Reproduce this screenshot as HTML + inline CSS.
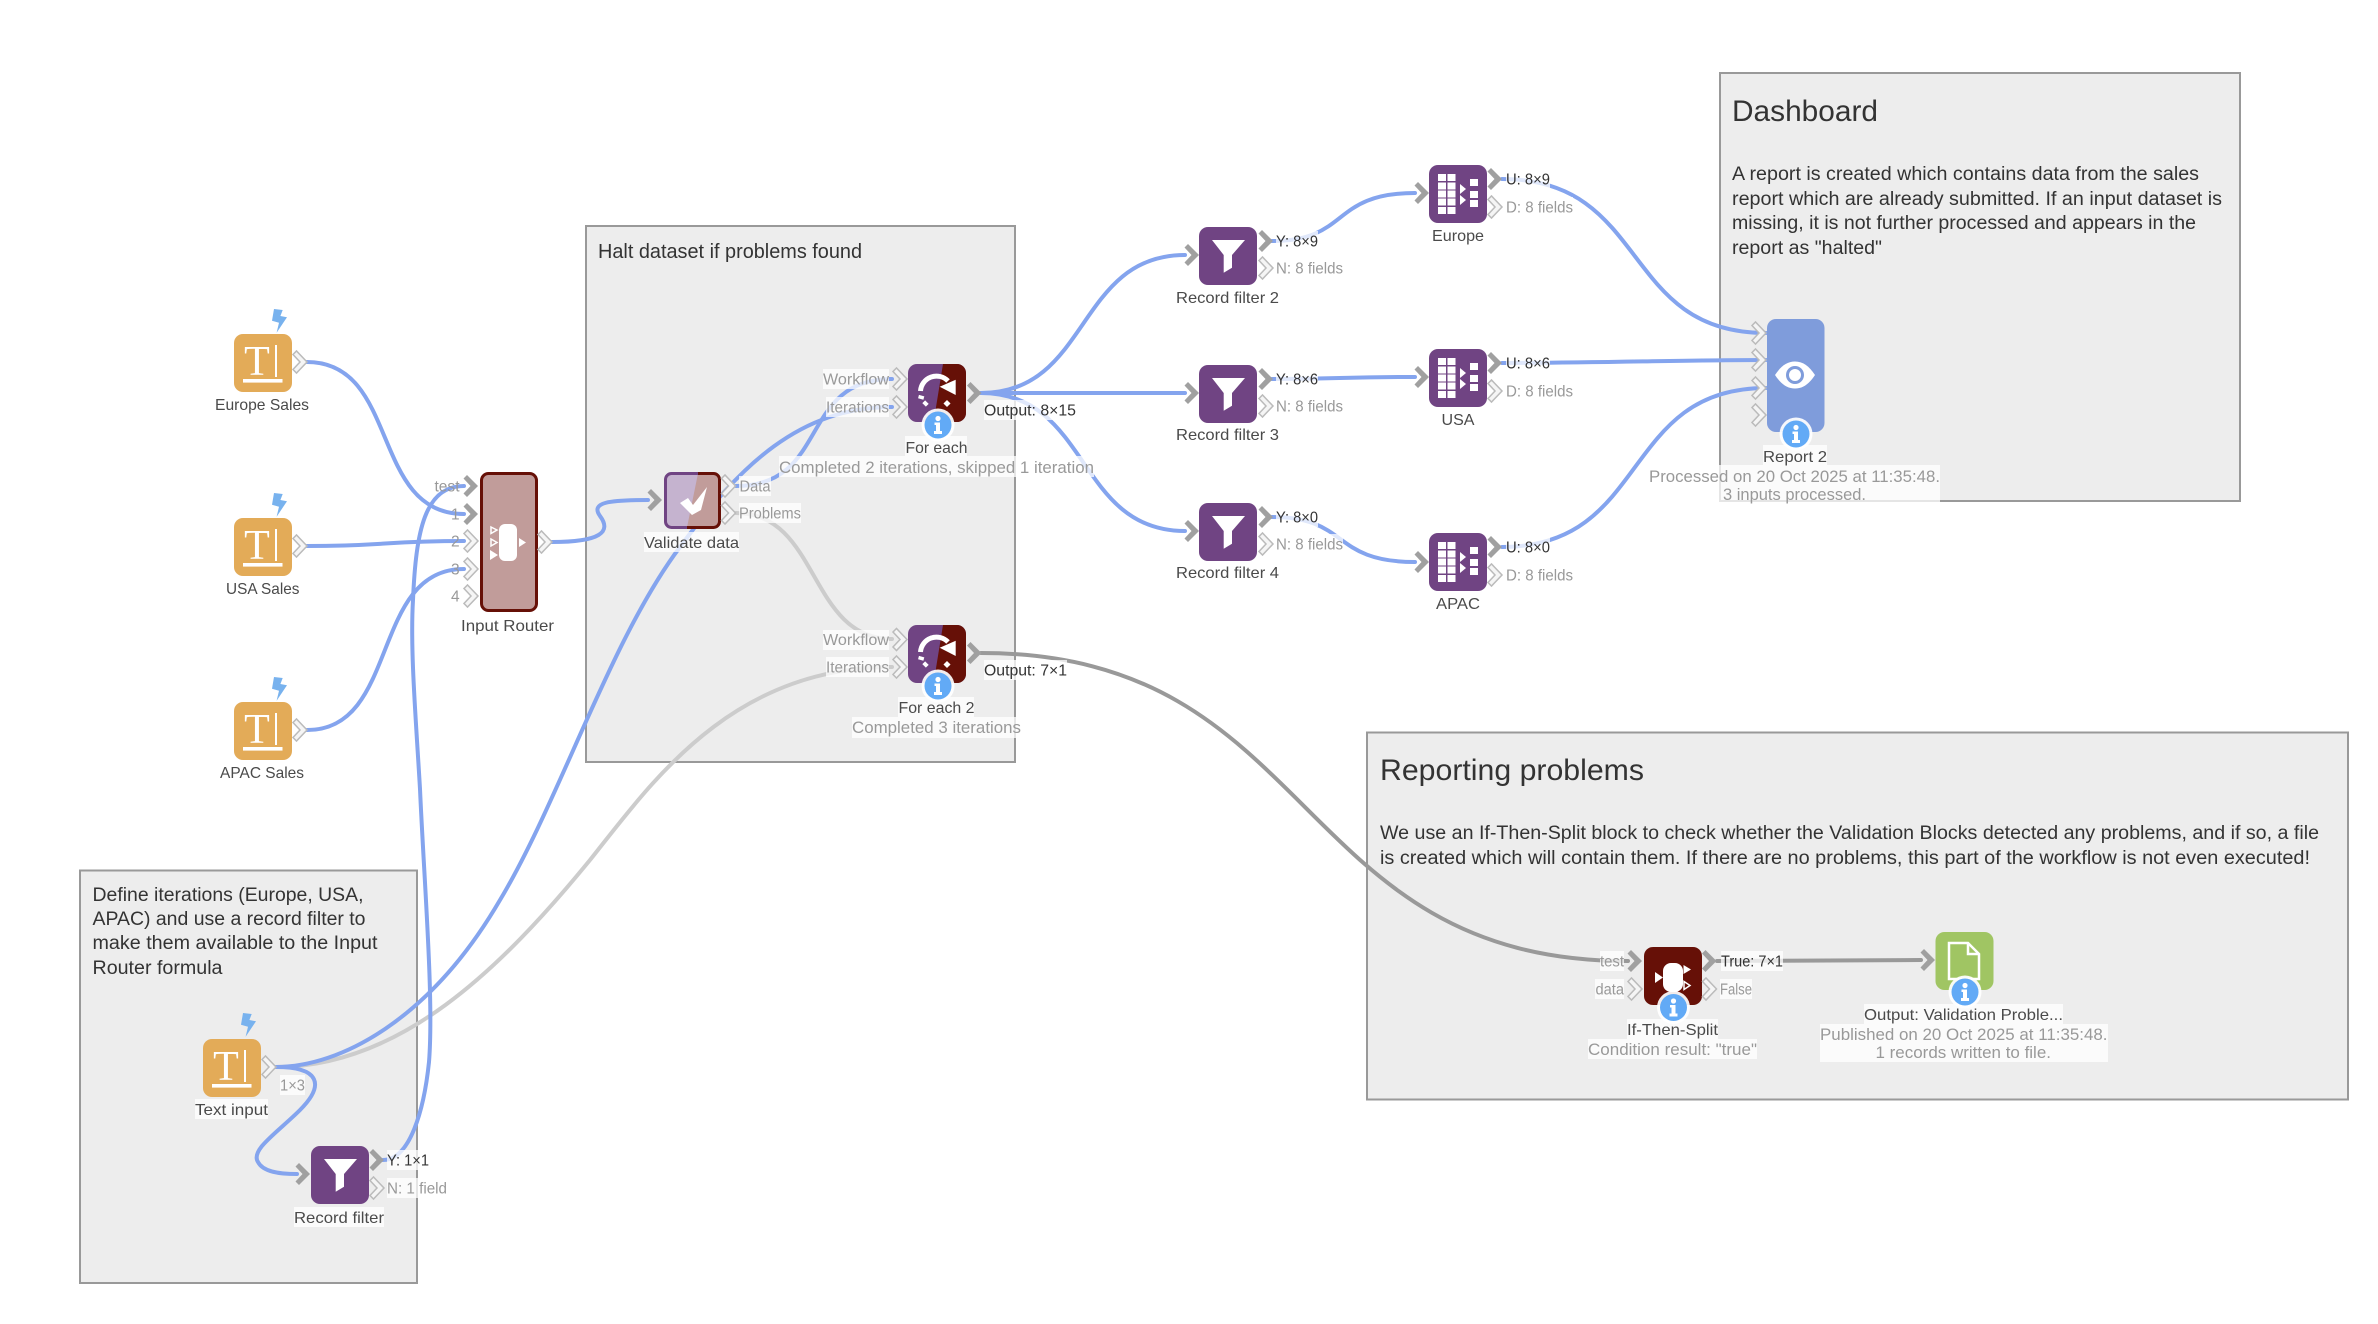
<!DOCTYPE html>
<html><head><meta charset="utf-8"><style>
html,body{margin:0;padding:0;background:#fff}
svg{display:block}
text{font-family:"Liberation Sans",sans-serif}
.l{font-size:16px;fill:#4a4a4a}
.p{font-size:15.5px;fill:#999}
.a{font-size:15.5px;fill:#333}
.s{font-size:16.5px;fill:#999}
.d{font-size:19px;fill:#333}
.t{font-size:30px;fill:#333}
.b{fill:#fff;fill-opacity:.75}
.e{fill:none;stroke:#84a4ee;stroke-width:4;stroke-linecap:round}
.g{fill:none;stroke:#ccc;stroke-width:4;stroke-linecap:round}
.k{fill:none;stroke:#999;stroke-width:4;stroke-linecap:round}
</style></head><body>
<svg xmlns="http://www.w3.org/2000/svg" width="2378" height="1324" viewBox="0 0 2378 1324">
<defs>
<polygon id="cl" points="0,-7.500 3.500,-11 14,0 3.500,11 0,7.500 7,0" fill="#f5f5f5" stroke="#bbb" stroke-width="1.500"/>
<polygon id="cd" points="-0.500,-7.500 3,-11 14,0 3,11 -0.500,7.500 6.500,0" fill="#a0a0a0"/>
<g id="info"><circle r="16.500" fill="#fff" fill-opacity=".92"/><circle r="13.500" fill="#62aaf6"/><circle cy="-6.500" r="2.600" fill="#fff"/><path d="M-3.500 -2.500H2V6H4V9H-4V6H-2V0H-3.500Z" fill="#fff"/></g>
<polygon id="bolt" points="2,0 10.700,1 8.400,7 15,8.300 4.600,23.700 7,13.700 0,11.700" fill="#78b2ee"/>
<g id="txt"><rect width="58" height="58" rx="9" fill="#e3ab58"/><text x="23" y="41" text-anchor="middle" style="font-family:'Liberation Serif',serif;font-size:42px;fill:#fff">T</text><rect x="41" y="11" width="2" height="32" fill="#fff"/><rect x="9" y="45" width="39.500" height="3.600" fill="#fff"/></g>
<g id="flt"><rect width="58" height="58" rx="9" fill="#704483"/><polygon points="13,13 46,13 33,28 33,40.700 24.700,45.700 24.700,28" fill="#fff"/></g>
<g id="unq"><rect width="58" height="58" rx="9" fill="#704483"/>
<g fill="#fff"><rect x="9" y="9" width="8" height="7"/><rect x="18.500" y="9" width="8" height="7"/><rect x="9" y="17.500" width="8" height="7"/><rect x="18.500" y="17.500" width="8" height="7"/><rect x="9" y="25.500" width="8" height="7"/><rect x="18.500" y="25.500" width="8" height="7"/><rect x="9" y="33.500" width="8" height="7"/><rect x="18.500" y="33.500" width="8" height="7"/><rect x="9" y="42" width="8" height="7"/><rect x="18.500" y="42" width="8" height="7"/>
<polygon points="31,19 37,24 31,29"/><polygon points="31,30 37,35 31,40"/><rect x="41" y="14" width="8" height="7"/><rect x="41" y="26" width="8" height="7"/><rect x="41" y="35" width="8" height="7"/></g></g>
<g id="loop"><rect width="58" height="58" rx="9" fill="#704483"/><path d="M35 0H49a9 9 0 0 1 9 9V49a9 9 0 0 1-9 9H25.600Z" fill="#661007"/>
<path d="M12.500 27A16 16 0 0 1 40 17" fill="none" stroke="#fff" stroke-width="5"/>
<polygon points="47.700,15.700 47.700,31 31.700,22.700" fill="#fff"/>
<g fill="#fff"><rect x="10.500" y="31.500" width="5.500" height="3.500" transform="rotate(15 13 33)"/><rect x="15" y="37.500" width="5" height="4" transform="rotate(45 17.500 39.500)"/><rect x="36.500" y="37" width="5" height="5" transform="rotate(45 39 39.500)"/></g></g>
</defs>

<!-- group boxes -->
<rect x="1720" y="73" width="520" height="428" fill="#ededed" stroke="#999" stroke-width="2"/>
<rect x="586" y="226" width="429" height="536" fill="#ededed" stroke="#999" stroke-width="2"/>
<rect x="1367" y="732.500" width="981" height="367" fill="#ededed" stroke="#999" stroke-width="2"/>
<rect x="80" y="870.500" width="337" height="412.500" fill="#ededed" stroke="#999" stroke-width="2"/>

<text class="t" x="1732" y="121" textLength="146" lengthAdjust="spacingAndGlyphs">Dashboard</text>
<text class="d" x="1732" y="180" textLength="467" lengthAdjust="spacingAndGlyphs">A report is created which contains data from the sales</text>
<text class="d" x="1732" y="205" textLength="490" lengthAdjust="spacingAndGlyphs">report which are already submitted. If an input dataset is</text>
<text class="d" x="1732" y="229" textLength="464" lengthAdjust="spacingAndGlyphs">missing, it is not further processed and appears in the</text>
<text class="d" x="1732" y="254" textLength="150" lengthAdjust="spacingAndGlyphs">report as "halted"</text>

<text class="d" style="font-size:20px" x="598" y="258" textLength="264" lengthAdjust="spacingAndGlyphs">Halt dataset if problems found</text>

<text class="t" x="1380" y="780" textLength="264" lengthAdjust="spacingAndGlyphs">Reporting problems</text>
<text class="d" x="1380" y="839" textLength="939" lengthAdjust="spacingAndGlyphs">We use an If-Then-Split block to check whether the Validation Blocks detected any problems, and if so, a file</text>
<text class="d" x="1380" y="864" textLength="930" lengthAdjust="spacingAndGlyphs">is created which will contain them. If there are no problems, this part of the workflow is not even executed!</text>

<text class="d" x="92.500" y="901" textLength="271" lengthAdjust="spacingAndGlyphs">Define iterations (Europe, USA,</text>
<text class="d" x="92.500" y="925" textLength="273" lengthAdjust="spacingAndGlyphs">APAC) and use a record filter to</text>
<text class="d" x="92.500" y="949" textLength="285" lengthAdjust="spacingAndGlyphs">make them available to the Input</text>
<text class="d" x="92.500" y="974" textLength="130" lengthAdjust="spacingAndGlyphs">Router formula</text>

<!-- edges -->
<path class="g" d="M276 1067C400 1067 500 970 590 860C650 785 730 667 892 667"/>
<path class="g" d="M736 513C820 513 808 639 892 639"/>
<path class="k" d="M981 653C1320 653 1290 961 1628 961"/>
<path class="k" d="M1717 961C1790 961 1850 960 1921 960"/>
<path class="e" d="M276 1067C340 1067 430 1020 500 900C560 800 610 640 680 547C740 465 800 407 892 407"/>
<path class="e" d="M276 1067C320 1067 325 1085 300 1110C278 1132 250 1150 258 1162C263 1172 280 1174 297 1174"/>
<path class="e" d="M383 1160C410 1160 424 1110 429 1062C434 1000 424 880 420 789C416 720 410 650 413 600C416 530 425 486 464 486"/>
<path class="e" d="M307 362C400 362 370 514 464 514"/>
<path class="e" d="M307 546C385 546 385 541 464 541"/>
<path class="e" d="M307 730C400 730 370 569 464 569"/>
<path class="e" d="M552 542C600 542 612 532 600 516C590 502 610 500 648 500"/>
<path class="e" d="M736 486C830 486 798 379 892 379"/>
<path class="e" d="M981 393C1090 393 1076 255 1185 255"/>
<path class="e" d="M981 393L1185 393"/>
<path class="e" d="M981 393C1090 393 1076 531 1185 531"/>
<path class="e" d="M1272 241C1350 241 1330 193 1415 193"/>
<path class="e" d="M1272 379C1340 379 1340 377 1415 377"/>
<path class="e" d="M1272 517C1350 517 1330 562 1415 562"/>
<path class="e" d="M1502 179C1650 179 1620 333 1766 333"/>
<path class="e" d="M1502 363C1600 363 1680 360 1766 360"/>
<path class="e" d="M1502 547C1650 547 1620 388 1766 388"/>

<!-- label backgrounds -->
<g class="b">
<rect x="644" y="532" width="95" height="20"/>
<rect x="739" y="476" width="32" height="20"/><rect x="739" y="503" width="62" height="20"/>
<rect x="823" y="369" width="66" height="20"/><rect x="826" y="397" width="63" height="20"/>
<rect x="823" y="630" width="66" height="20"/><rect x="826" y="657" width="63" height="20"/>
<rect x="905" y="436" width="62" height="20"/><rect x="779" y="456" width="315" height="21"/>
<rect x="898" y="697" width="76" height="20"/><rect x="852" y="717" width="169" height="21"/>
<rect x="984" y="400" width="92" height="20"/><rect x="984" y="660" width="83" height="20"/>
<rect x="1276" y="231" width="42" height="20"/><rect x="1276" y="258" width="67" height="20"/>
<rect x="1276" y="369" width="42" height="20"/><rect x="1276" y="396" width="67" height="20"/>
<rect x="1276" y="507" width="42" height="20"/><rect x="1276" y="534" width="67" height="20"/>
<rect x="1506" y="169" width="44" height="20"/><rect x="1506" y="197" width="67" height="20"/>
<rect x="1506" y="353" width="44" height="20"/><rect x="1506" y="381" width="67" height="20"/>
<rect x="1506" y="537" width="44" height="20"/><rect x="1506" y="565" width="67" height="20"/>
<rect x="1763" y="445" width="64" height="20"/><rect x="1649" y="465" width="291" height="37"/>
<rect x="1600" y="951" width="24" height="20"/><rect x="1595" y="979" width="29" height="20"/>
<rect x="1721" y="951" width="62" height="20"/><rect x="1720" y="979" width="32" height="20"/>
<rect x="1627" y="1019" width="91" height="20"/><rect x="1588" y="1039" width="169" height="20"/>
<rect x="1864" y="1004" width="199" height="20"/><rect x="1820" y="1024" width="288" height="38"/>
<rect x="195" y="1099" width="73" height="20"/><rect x="280" y="1075" width="25" height="20"/>
<rect x="294" y="1207" width="90" height="20"/><rect x="387" y="1150" width="42" height="20"/><rect x="387" y="1178" width="60" height="20"/>
</g>

<!-- text nodes -->
<use href="#txt" x="234" y="334"/><use href="#bolt" x="272" y="309"/><use href="#cl" x="293" y="362"/>
<use href="#txt" x="234" y="518"/><use href="#bolt" x="272" y="493"/><use href="#cl" x="293" y="546"/>
<use href="#txt" x="234" y="702"/><use href="#bolt" x="272" y="677"/><use href="#cl" x="293" y="730"/>
<use href="#txt" x="203" y="1039"/><use href="#bolt" x="241" y="1013"/><use href="#cl" x="262" y="1067"/>
<text class="l" x="215" y="410" textLength="94" lengthAdjust="spacingAndGlyphs">Europe Sales</text>
<text class="l" x="226" y="594" textLength="73.500" lengthAdjust="spacingAndGlyphs">USA Sales</text>
<text class="l" x="220" y="778" textLength="84" lengthAdjust="spacingAndGlyphs">APAC Sales</text>
<text class="l" x="195" y="1115" textLength="73" lengthAdjust="spacingAndGlyphs">Text input</text>
<text class="p" x="280" y="1090.500" textLength="25" lengthAdjust="spacingAndGlyphs">1×3</text>

<!-- input router -->
<rect x="481.500" y="473.500" width="55" height="137" rx="7" fill="#c19c9a" stroke="#661007" stroke-width="3"/>
<rect x="499" y="524" width="18" height="37" rx="6" fill="#fff"/>
<polygon points="519,538 526,542.500 519,547" fill="#fff"/>
<polygon points="491,527 497,530 491,533.500" fill="none" stroke="#fff" stroke-width="1.500"/>
<polygon points="491,539 497,542.500 491,546" fill="none" stroke="#fff" stroke-width="1.500"/>
<polygon points="490,550 498,555 490,560" fill="#fff"/>
<use href="#cd" x="464" y="486"/><use href="#cd" x="464" y="514"/><use href="#cl" x="464" y="541"/><use href="#cl" x="464" y="569"/><use href="#cl" x="464" y="596"/>
<use href="#cl" x="538" y="542"/>
<text class="p" x="434.500" y="491.500" textLength="25" lengthAdjust="spacingAndGlyphs">test</text>
<text class="p" x="451" y="519.500">1</text><text class="p" x="451" y="546.500">2</text><text class="p" x="451" y="574.500">3</text><text class="p" x="451" y="601.500">4</text>
<text class="l" x="461" y="631" textLength="93" lengthAdjust="spacingAndGlyphs">Input Router</text>

<!-- validate -->
<rect x="665.500" y="473.500" width="54" height="54" rx="6" fill="#c5b3cf"/>
<path d="M698 473.500H713.500a6 6 0 0 1 6 6V521.500a6 6 0 0 1-6 6H687Z" fill="#c19c9a"/>
<path d="M698 473.500H671.500a6 6 0 0 0-6 6V521.500a6 6 0 0 0 6 6H687" fill="none" stroke="#704483" stroke-width="3"/>
<path d="M698 473.500H713.500a6 6 0 0 1 6 6V521.500a6 6 0 0 1-6 6H687" fill="none" stroke="#661007" stroke-width="3"/>
<polygon points="680,503 688,498 693,505 707,487 701,510 692,515" fill="#fff"/>
<use href="#cd" x="648" y="500"/><use href="#cl" x="721.500" y="486"/><use href="#cl" x="721.500" y="513"/>
<text class="l" x="644" y="548" textLength="95" lengthAdjust="spacingAndGlyphs">Validate data</text>
<text class="p" x="739.500" y="491.500" textLength="31" lengthAdjust="spacingAndGlyphs">Data</text>
<text class="p" x="739" y="518.500" textLength="62" lengthAdjust="spacingAndGlyphs">Problems</text>

<!-- for each -->
<use href="#loop" x="908" y="364"/><use href="#info" x="938" y="425"/>
<use href="#cl" x="893" y="379"/><use href="#cl" x="893" y="407"/><use href="#cd" x="967.500" y="393"/>
<text class="p" x="823" y="384.500" textLength="66" lengthAdjust="spacingAndGlyphs">Workflow</text>
<text class="p" x="826" y="412.500" textLength="63" lengthAdjust="spacingAndGlyphs">Iterations</text>
<text class="l" x="905.500" y="453" textLength="62" lengthAdjust="spacingAndGlyphs">For each</text>
<text class="s" x="779" y="473" textLength="315" lengthAdjust="spacingAndGlyphs">Completed 2 iterations, skipped 1 iteration</text>
<text class="a" x="984" y="415.500" textLength="92" lengthAdjust="spacingAndGlyphs">Output: 8×15</text>

<use href="#loop" x="908" y="625"/><use href="#info" x="938" y="686"/>
<use href="#cl" x="893" y="639.500"/><use href="#cl" x="893" y="667"/><use href="#cd" x="967.500" y="653"/>
<text class="p" x="823" y="645" textLength="66" lengthAdjust="spacingAndGlyphs">Workflow</text>
<text class="p" x="826" y="672.500" textLength="63" lengthAdjust="spacingAndGlyphs">Iterations</text>
<text class="l" x="898.500" y="713" textLength="76" lengthAdjust="spacingAndGlyphs">For each 2</text>
<text class="s" x="852" y="733" textLength="169" lengthAdjust="spacingAndGlyphs">Completed 3 iterations</text>
<text class="a" x="984" y="675.500" textLength="83" lengthAdjust="spacingAndGlyphs">Output: 7×1</text>

<!-- record filters -->
<use href="#flt" x="1199" y="227"/><use href="#cd" x="1185" y="255"/><use href="#cd" x="1259" y="241"/><use href="#cl" x="1259" y="268"/>
<text class="a" x="1276" y="246.500" textLength="42" lengthAdjust="spacingAndGlyphs">Y: 8×9</text>
<text class="p" x="1276" y="273.500" textLength="67" lengthAdjust="spacingAndGlyphs">N: 8 fields</text>
<text class="l" x="1176" y="303" textLength="103" lengthAdjust="spacingAndGlyphs">Record filter 2</text>

<use href="#flt" x="1199" y="365"/><use href="#cd" x="1185" y="393"/><use href="#cd" x="1259" y="379"/><use href="#cl" x="1259" y="406"/>
<text class="a" x="1276" y="384.500" textLength="42" lengthAdjust="spacingAndGlyphs">Y: 8×6</text>
<text class="p" x="1276" y="411.500" textLength="67" lengthAdjust="spacingAndGlyphs">N: 8 fields</text>
<text class="l" x="1176" y="440" textLength="103" lengthAdjust="spacingAndGlyphs">Record filter 3</text>

<use href="#flt" x="1199" y="503"/><use href="#cd" x="1185" y="531"/><use href="#cd" x="1259" y="517"/><use href="#cl" x="1259" y="544"/>
<text class="a" x="1276" y="522.500" textLength="42" lengthAdjust="spacingAndGlyphs">Y: 8×0</text>
<text class="p" x="1276" y="549.500" textLength="67" lengthAdjust="spacingAndGlyphs">N: 8 fields</text>
<text class="l" x="1176" y="578" textLength="103" lengthAdjust="spacingAndGlyphs">Record filter 4</text>

<use href="#flt" x="311" y="1146"/><use href="#cd" x="296" y="1174"/><use href="#cd" x="370" y="1160"/><use href="#cl" x="370" y="1188"/>
<text class="a" x="387" y="1165.500" textLength="42" lengthAdjust="spacingAndGlyphs">Y: 1×1</text>
<text class="p" x="387" y="1193.500" textLength="60" lengthAdjust="spacingAndGlyphs">N: 1 field</text>
<text class="l" x="294" y="1223" textLength="90" lengthAdjust="spacingAndGlyphs">Record filter</text>

<!-- unique -->
<use href="#unq" x="1429" y="165"/><use href="#cd" x="1415" y="193"/><use href="#cd" x="1488" y="179"/><use href="#cl" x="1488" y="207"/>
<text class="a" x="1506" y="184.500" textLength="44" lengthAdjust="spacingAndGlyphs">U: 8×9</text>
<text class="p" x="1506" y="212.500" textLength="67" lengthAdjust="spacingAndGlyphs">D: 8 fields</text>
<text class="l" x="1432" y="241" textLength="52" lengthAdjust="spacingAndGlyphs">Europe</text>

<use href="#unq" x="1429" y="349"/><use href="#cd" x="1415" y="377"/><use href="#cd" x="1488" y="363"/><use href="#cl" x="1488" y="391"/>
<text class="a" x="1506" y="368.500" textLength="44" lengthAdjust="spacingAndGlyphs">U: 8×6</text>
<text class="p" x="1506" y="396.500" textLength="67" lengthAdjust="spacingAndGlyphs">D: 8 fields</text>
<text class="l" x="1441.500" y="425" textLength="33" lengthAdjust="spacingAndGlyphs">USA</text>

<use href="#unq" x="1429" y="533"/><use href="#cd" x="1415" y="562"/><use href="#cd" x="1488" y="547"/><use href="#cl" x="1488" y="575"/>
<text class="a" x="1506" y="552.500" textLength="44" lengthAdjust="spacingAndGlyphs">U: 8×0</text>
<text class="p" x="1506" y="580.500" textLength="67" lengthAdjust="spacingAndGlyphs">D: 8 fields</text>
<text class="l" x="1436" y="609" textLength="44" lengthAdjust="spacingAndGlyphs">APAC</text>

<!-- report -->
<rect x="1767" y="319" width="57.500" height="113" rx="9" fill="#7f9cdb"/>
<path d="M1775 375C1781 366 1787 361.500 1795 361.500C1803 361.500 1809 366 1815 375C1809 384 1803 388.500 1795 388.500C1787 388.500 1781 384 1775 375Z" fill="#fff"/>
<circle cx="1795" cy="375" r="9" fill="#7f9cdb"/><circle cx="1795" cy="375" r="6" fill="#fff"/>
<use href="#cl" x="1752" y="333"/><use href="#cl" x="1752" y="360"/><use href="#cl" x="1752" y="388"/><use href="#cl" x="1752" y="415"/>
<use href="#info" x="1796" y="434"/>
<text class="l" x="1763" y="462" textLength="64" lengthAdjust="spacingAndGlyphs">Report 2</text>
<text class="s" x="1649" y="482" textLength="291" lengthAdjust="spacingAndGlyphs">Processed on 20 Oct 2025 at 11:35:48.</text>
<text class="s" x="1723" y="500" textLength="143" lengthAdjust="spacingAndGlyphs">3 inputs processed.</text>

<!-- if then split -->
<rect x="1644" y="947" width="58" height="58" rx="9" fill="#661007"/>
<rect x="1663" y="963" width="20" height="29" rx="8" fill="#fff"/>
<polygon points="1655,972 1663,977.500 1655,983" fill="#fff"/>
<polygon points="1683.500,965 1691,969.500 1683.500,974" fill="#fff"/>
<polygon points="1684,981.500 1690,985.500 1684,989.500" fill="none" stroke="#fff" stroke-width="1.500"/>
<use href="#cd" x="1628" y="961"/><use href="#cl" x="1628" y="989"/><use href="#cd" x="1702.500" y="961"/><use href="#cl" x="1702.500" y="989"/>
<use href="#info" x="1673.500" y="1007.500"/>
<text class="p" x="1600" y="966.500" textLength="24" lengthAdjust="spacingAndGlyphs">test</text>
<text class="p" x="1595.500" y="994.500" textLength="28.500" lengthAdjust="spacingAndGlyphs">data</text>
<text class="a" x="1721" y="966.500" textLength="62" lengthAdjust="spacingAndGlyphs">True: 7×1</text>
<text class="p" x="1720" y="994.500" textLength="32" lengthAdjust="spacingAndGlyphs">False</text>
<text class="l" x="1627" y="1035" textLength="91" lengthAdjust="spacingAndGlyphs">If-Then-Split</text>
<text class="s" x="1588" y="1055" textLength="169" lengthAdjust="spacingAndGlyphs">Condition result: "true"</text>

<!-- output -->
<rect x="1935.500" y="932" width="58" height="58" rx="9" fill="#a0c563"/>
<path d="M1949 943H1968L1979 954V979H1949Z" fill="none" stroke="#fff" stroke-width="2.500"/>
<path d="M1968 943V954H1979" fill="none" stroke="#fff" stroke-width="2.500"/>
<use href="#cd" x="1921" y="960"/><use href="#info" x="1965" y="992"/>
<text class="l" x="1864" y="1020" textLength="199" lengthAdjust="spacingAndGlyphs">Output: Validation Proble...</text>
<text class="s" x="1820" y="1040" textLength="287.500" lengthAdjust="spacingAndGlyphs">Published on 20 Oct 2025 at 11:35:48.</text>
<text class="s" x="1875.500" y="1058" textLength="175.500" lengthAdjust="spacingAndGlyphs">1 records written to file.</text>
</svg>
</body></html>
